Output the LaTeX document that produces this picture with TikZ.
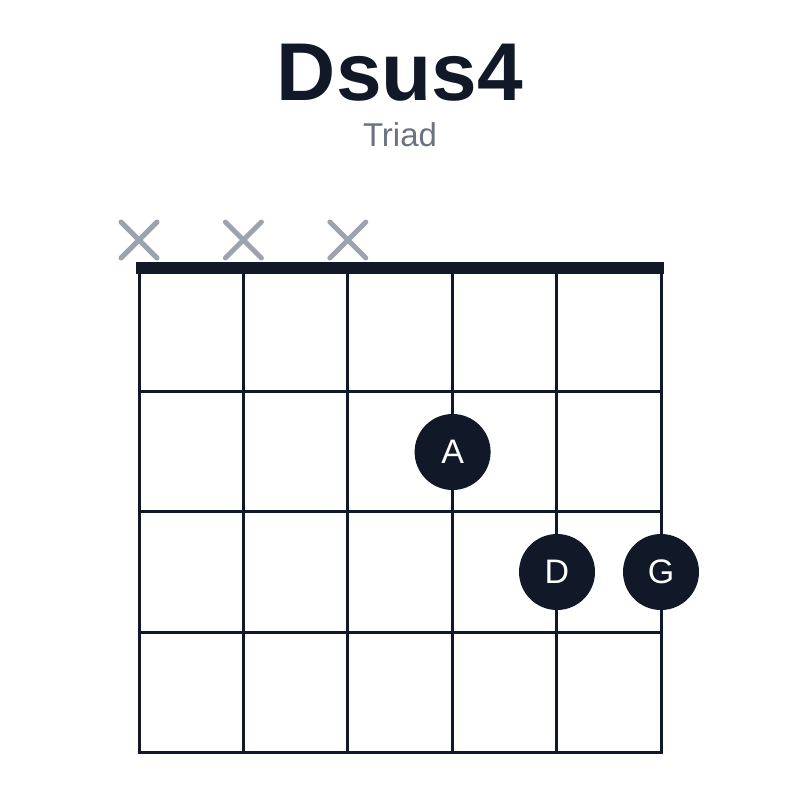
\documentclass[tikz,border=0pt]{standalone}
\usepackage{fontspec}
\setmainfont{Liberation Sans}
\usepackage{xcolor}
\usepackage{tikz}
\usetikzlibrary{positioning}

\definecolor{tinta}{HTML}{111827}
\definecolor{gris}{HTML}{6B7280}
\definecolor{grisx}{HTML}{9CA3AF}

\begin{document}
\begin{tikzpicture}[x=1pt, y=-1pt]
\tikzstyle{dedo}=[
    circle,
    fill=tinta,
    inner sep=0pt,
    minimum size=76pt, % Tamaño del dedo
    text=white,
    font=\fontsize{34}{34}\selectfont
]
\tikzstyle{cuerda}=[line width=3pt, tinta]
\tikzstyle{muda}=[line width=5pt, grisx, line cap=round]

\useasboundingbox (0,0) rectangle (800,800);

% Titulo
\node[anchor=base, text=tinta, font=\fontsize{82}{82}\selectfont\bfseries] (titulo) at (400,100) {Dsus4};
\node[anchor=base, text=gris, font=\fontsize{33}{33}\selectfont] (tipo) at (400,146) {Triad};

% Cuerdas y trastes
\foreach \i in {0,...,5}
    \draw[cuerda] (139+104.4*\i,268) -- (139+104.4*\i,752);
\foreach \j in {391,511,632,752}
    \draw[cuerda] (137.5,\j) -- (662.5,\j);
\draw[line width=12pt, tinta] (136,268) -- (664,268);

% Cuerdas mudas
\foreach \i in {0,1,2}
    \draw[muda] (139+104.4*\i-18,222) -- ++(36,36)
                (139+104.4*\i+18,222) -- ++(-36,36);

% Dedos
\node[dedo] (A) at (452.6,452) {A};
\node[dedo] (D) at (557,572) {D};
\node[dedo] (G) at (661,572) {G};

\end{tikzpicture}
\end{document}
